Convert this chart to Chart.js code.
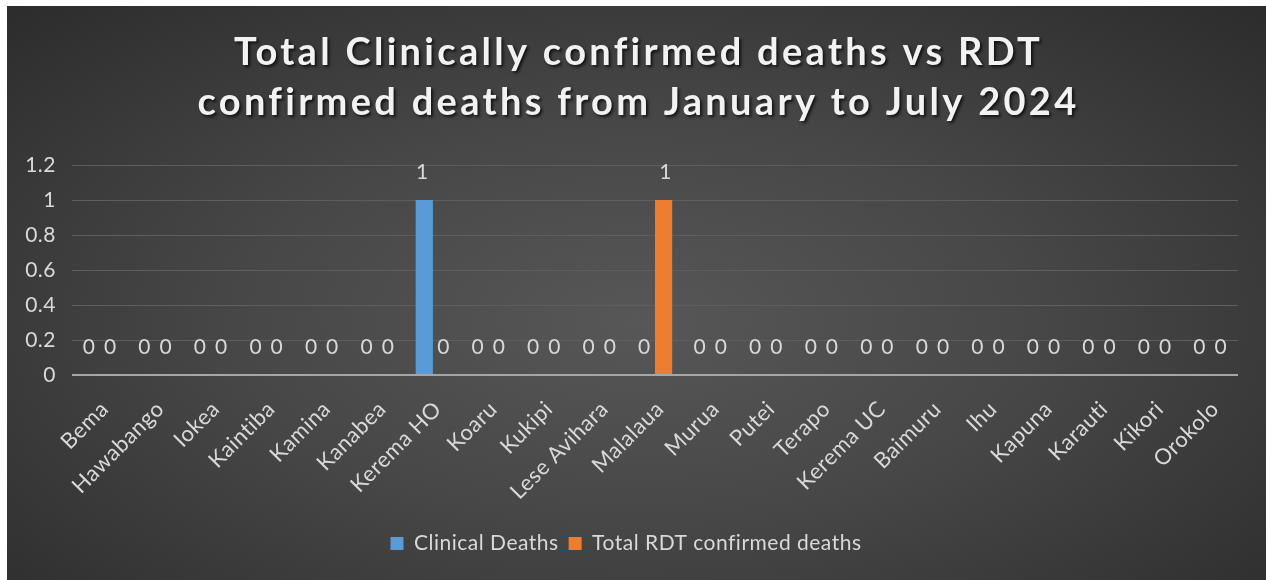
<!DOCTYPE html>
<html>
<head>
<meta charset="utf-8">
<script src="https://cdn.jsdelivr.net/npm/chart.js@4"></script>
<style>
  html, body { margin: 0; padding: 0; background: #fff; }
  #wrap {
    position: absolute; left: 7px; top: 6px; width: 1259px; height: 574px;
    background: radial-gradient(ellipse at 50% 55%, #575757 0%, #474747 45%, #2c2c2c 100%);
  }
</style>
</head>
<body>
<div id="wrap"><canvas id="myChart" width="1259" height="574"></canvas></div>
<script>
// facilities along the x axis
const facilities = ["Bema", "Hawabango", "Iokea", "Kaintiba", "Kamina", "Kanabea", "Kerema HO",
  "Koaru", "Kukipi", "Lese Avihara", "Malalaua", "Murua", "Putei", "Terapo", "Kerema UC",
  "Baimuru", "Ihu", "Kapuna", "Karauti", "Kikori", "Orokolo"];
const clinicalDeaths = [0, 0, 0, 0, 0, 0, 1, 0, 0, 0, 0, 0, 0, 0, 0, 0, 0, 0, 0, 0, 0];
const rdtDeaths      = [0, 0, 0, 0, 0, 0, 0, 0, 0, 0, 1, 0, 0, 0, 0, 0, 0, 0, 0, 0, 0];
const yTicks = [0, 0.2, 0.4, 0.6, 0.8, 1, 1.2];
const titleLines = ["Total Clinically confirmed deaths vs RDT", "confirmed deaths from January to July 2024"];

const textColor = "#d9d9d9";
const fontFamily = "Lato, 'Open Sans', sans-serif";

// the source picture is a bit stretched, so all text gets a little extra spacing
const wideText = {
  id: "wideText",
  beforeLayout(chart) { chart.ctx.letterSpacing = "0.5px"; },
  beforeDraw(chart) { chart.ctx.letterSpacing = "0.5px"; }
};

// title drawn by hand so it can get the wide letter spacing + shadow
const spacedTitle = {
  id: "spacedTitle",
  afterDraw(chart) {
    const ctx = chart.ctx;
    ctx.save();
    ctx.font = "bold 38px " + fontFamily;
    ctx.letterSpacing = "3.3px";
    ctx.textAlign = "center";
    ctx.textBaseline = "alphabetic";
    ctx.fillStyle = "#f2f2f2";
    ctx.shadowColor = "rgba(0,0,0,0.7)";
    ctx.shadowOffsetX = 2;
    ctx.shadowOffsetY = 2;
    ctx.shadowBlur = 3;
    titleLines.forEach((t, i) => ctx.fillText(t, chart.width / 2 + 2, 59 + i * 50));
    ctx.restore();
  }
};

// value labels above each bar (like excel "outside end")
const valueLabels = {
  id: "valueLabels",
  afterDatasetsDraw(chart) {
    const ctx = chart.ctx;
    ctx.save();
    ctx.fillStyle = textColor;
    ctx.font = "21px " + fontFamily;
    ctx.textAlign = "center";
    ctx.textBaseline = "middle";
    chart.data.datasets.forEach((ds, i) => {
      chart.getDatasetMeta(i).data.forEach((bar, j) => {
        const shift = i === 0 ? -2 : 2;
        ctx.fillText(String(ds.data[j]), bar.x + shift, bar.y - 28);
      });
    });
    ctx.restore();
  }
};

new Chart(document.getElementById("myChart").getContext("2d"), {
  type: "bar",
  data: {
    labels: facilities,
    datasets: [
      { label: "Clinical Deaths", data: clinicalDeaths, backgroundColor: "#5b9bd5" },
      { label: "Total RDT confirmed deaths", data: rdtDeaths, backgroundColor: "#ed7d31" }
    ]
  },
  options: {
    responsive: false,
    animation: false,
    layout: { padding: { left: 7, right: 28, top: 159, bottom: 16 } },
    datasets: { bar: { categoryPercentage: 0.62, barPercentage: 1 } },
    plugins: {
      title: { display: false },
      legend: {
        position: "bottom",
        labels: { color: textColor, boxWidth: 13, boxHeight: 13, padding: 10, font: { family: fontFamily, size: 21 } }
      },
      tooltip: { enabled: false }
    },
    scales: {
      x: {
        grid: { display: false },
        border: { display: false },
        ticks: { color: textColor, maxRotation: 45, minRotation: 45, padding: 13, labelOffset: 5, font: { family: fontFamily, size: 22 } },
        afterFit: (s) => { s.height = 148; }
      },
      y: {
        min: 0, max: 1.2,
        afterBuildTicks: (s) => { s.ticks = yTicks.map(v => ({ value: v })); },
        border: { display: false },
        grid: {
          drawTicks: false,
          color: (c) => c.tick && c.tick.value === 0 ? "#a6a6a6" : "#5e5e5e",
          lineWidth: (c) => c.tick && c.tick.value === 0 ? 2 : 1
        },
        ticks: {
          color: textColor, padding: 16, font: { family: fontFamily, size: 21 },
          callback: (v) => String(+v.toFixed(1))
        },
        afterFit: (s) => { s.width = 58; }
      }
    }
  },
  plugins: [wideText, valueLabels, spacedTitle]
});
</script>
</body>
</html>
